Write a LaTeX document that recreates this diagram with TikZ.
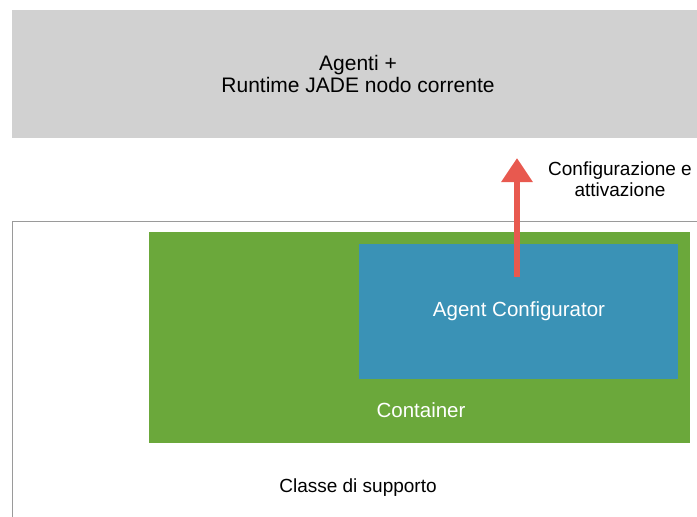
\documentclass[tikz,border=0pt]{standalone}
\usepackage{fontspec}
\setmainfont{Liberation Sans}
\usetikzlibrary{arrows.meta}
\definecolor{topgray}{HTML}{D1D1D1}
\definecolor{frameline}{HTML}{9A9A9A}
\definecolor{grassgreen}{HTML}{6BA83B}
\definecolor{oceanblue}{HTML}{3A92B6}
\definecolor{arrowred}{HTML}{E8594F}
\tikzset{
  lbl/.style={font=\fontsize{19}{20.5}\selectfont, align=center, inner sep=0pt},
  toplbl/.style={lbl, font=\fontsize{21}{22.5}\selectfont},
  whitelbl/.style={lbl, font=\fontsize{20.5}{22}\selectfont, text=white},
  boxfill/.style={draw=none, inner sep=0pt, anchor=north west},
}
\begin{document}
\begin{tikzpicture}[x=1pt,y=-1pt]
\useasboundingbox (0,0) rectangle (697,517);
\fill[white] (0,0) rectangle (697,517);
% top gray box
\node[boxfill, fill=topgray, minimum width=685pt, minimum height=128pt] (top) at (12,10) {};
\node[toplbl] (toptext) at (358,74) {Agenti +\\Runtime JADE nodo corrente};
% support class frame
\node[boxfill, draw=frameline, line width=1pt, fill=white, minimum width=700pt, minimum height=310pt] (frame) at (12,221) {};
% container
\node[boxfill, fill=grassgreen, minimum width=541pt, minimum height=211pt] (cont) at (149,232) {};
% agent configurator
\node[boxfill, fill=oceanblue, minimum width=319pt, minimum height=135pt] (conf) at (359,244) {};
\node[whitelbl] (conftext) at (519,311) {Agent Configurator};
\node[whitelbl] (conttext) at (421,410) {Container};
\node[lbl] (classtext) at (358,488) {Classe di supporto};
% arrow
\coordinate (astart) at (517,277);
\coordinate (aend) at (517,158);
\draw[arrowred, line width=6pt, -{Triangle[width=30pt,length=24pt]}] (astart) -- (aend);
\node[lbl] (arrowtext) at (620,179) {Configurazione e\\attivazione};
\end{tikzpicture}
\end{document}
